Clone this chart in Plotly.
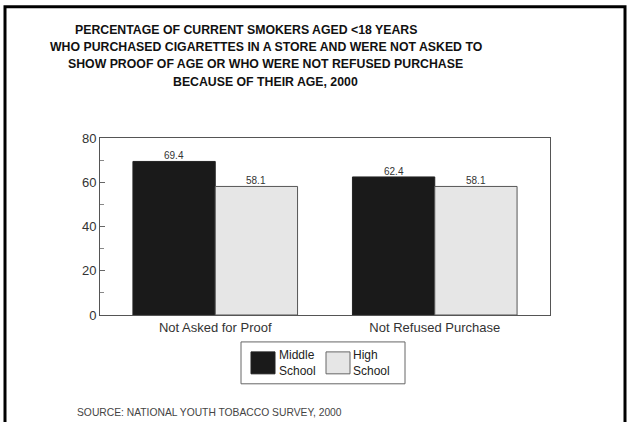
import plotly.graph_objects as go

categories = ["Not Asked for Proof", "Not Refused Purchase"]
middle_school = [69.4, 62.4]
high_school = [58.1, 58.1]
series_names = ["Middle School", "High School"]
y_ticks = [0, 20, 40, 60, 80]

W, H = 629, 422
L, R, T, B = 100, 550, 137.5, 315
BARGAP = 0.25
XPAD = 0.025

def px(x):
    return (x - L) / (R - L)

def py(y):
    return (B - y) / (B - T)

FONT = "Liberation Sans, Arial, Helvetica, sans-serif"

fig = go.Figure()
fig.add_trace(go.Bar(
    x=categories, y=middle_school, name=series_names[0],
    marker=dict(color="#1a1a1a", line=dict(color="#222", width=1)),
))
fig.add_trace(go.Bar(
    x=categories, y=high_school, name=series_names[1],
    marker=dict(color="#e6e6e6", line=dict(color="#555", width=1)),
))

fig.update_layout(
    width=W, height=H,
    margin=dict(l=L, r=W - R, t=T, b=H - B),
    paper_bgcolor="white", plot_bgcolor="white",
    barmode="group", bargap=BARGAP, bargroupgap=0,
    showlegend=False,
    font=dict(family=FONT, color="#333"),
)
fig.update_xaxes(
    range=[-0.5 - XPAD, len(categories) - 0.5 + XPAD],
    showline=True, linecolor="#555", linewidth=1, mirror=True,
    ticks="", tickfont=dict(size=13, color="#333"), showgrid=False,
)
fig.update_yaxes(
    range=[0, 80], tickvals=y_ticks, showgrid=False, zeroline=False,
    showline=True, linecolor="#555", linewidth=1, mirror=True,
    ticks="inside", ticklen=5, tickcolor="#666",
    minor=dict(dtick=10, ticks="inside", ticklen=4, tickcolor="#888"),
    tickfont=dict(size=13, color="#333"),
)

# value labels above bars
units = len(categories) + 2 * XPAD
cat_px = (R - L) / units
bar_px = cat_px * (1 - BARGAP) / 2
annotations = []
for vals, sign in ((middle_school, -1), (high_school, 1)):
    for c, v in zip(categories, vals):
        annotations.append(dict(
            x=c, y=v, xref="x", yref="y", text=f"{v:.1f}", showarrow=False,
            xshift=sign * bar_px / 2, yanchor="bottom", yshift=-2,
            font=dict(size=10, color="#333", family=FONT),
        ))

# outer black frame
shapes = [dict(type="rect", xref="paper", yref="paper",
               x0=px(5), x1=px(625), y0=py(440), y1=py(6),
               line=dict(color="black", width=3))]
# custom legend box and swatches
shapes.append(dict(type="rect", xref="paper", yref="paper",
                   x0=px(241), x1=px(405), y0=py(384), y1=py(342),
                   line=dict(color="#666", width=1), fillcolor="white"))
shapes.append(dict(type="rect", xref="paper", yref="paper",
                   x0=px(251), x1=px(275), y0=py(374), y1=py(352),
                   line=dict(color="#222", width=1), fillcolor="#1a1a1a"))
shapes.append(dict(type="rect", xref="paper", yref="paper",
                   x0=px(326), x1=px(350), y0=py(374), y1=py(352),
                   line=dict(color="#666", width=1), fillcolor="#e6e6e6"))

title_lines = [
    ("PERCENTAGE OF CURRENT SMOKERS AGED &lt;18 YEARS", 246, 29),
    ("WHO PURCHASED CIGARETTES IN A STORE AND WERE NOT ASKED TO", 266, 46),
    ("SHOW PROOF OF AGE OR WHO WERE NOT REFUSED PURCHASE", 265, 63),
    ("BECAUSE OF THEIR AGE, 2000", 265, 81),
]
for text, cx, cy in title_lines:
    annotations.append(dict(
        text=f"<b>{text}</b>", x=px(cx), y=py(cy), xref="paper", yref="paper",
        xanchor="center", yanchor="middle", showarrow=False,
        font=dict(size=12.3, color="#111", family=FONT),
    ))
legend_labels = [("Middle<br>School", 278), ("High<br>School", 352)]
for text, lx in legend_labels:
    annotations.append(dict(
        text=text, x=px(lx), y=py(363.5), xref="paper", yref="paper",
        xanchor="left", yanchor="middle", align="left", showarrow=False,
        borderpad=0, font=dict(size=12, color="#222", family=FONT),
    ))
annotations.append(dict(
    text="SOURCE: NATIONAL YOUTH TOBACCO SURVEY, 2000", x=px(76), y=py(413),
    xref="paper", yref="paper", xanchor="left", yanchor="middle", showarrow=False,
    borderpad=0, font=dict(size=10.3, color="#444", family=FONT),
))

fig.update_layout(shapes=shapes, annotations=annotations)
fig.write_html(
    "out.html",
    config={"displayModeBar": False},
    post_script="document.body.style.margin='0';document.body.style.overflow='hidden';",
)
